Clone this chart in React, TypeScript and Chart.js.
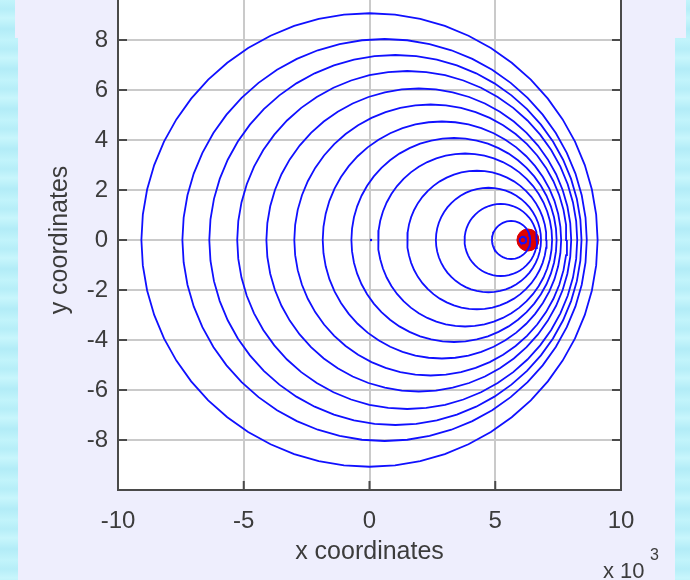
import React, { useEffect, useRef } from 'react';
import { Chart, registerables } from 'chart.js';

Chart.register(...registerables);

// ---- data (units of x: 10^3) ----
const xTicks = [-10, -5, 0, 5, 10];
const yTicks = [-8, -6, -4, -2, 0, 2, 4, 6, 8];
const xRange = [-10, 10];
const yRange = [-10, 10];

// wavefront circles: centre on the x axis and radius
const waveCenters = [0.0, 0.6, 1.03, 1.5, 1.96, 2.43, 2.88, 3.36, 3.8, 4.27, 4.73, 5.22, 5.63, 6.1];
const waveRadii = [9.07, 8.04, 7.4, 6.76, 6.06, 5.42, 4.74, 4.08, 3.46, 2.77, 2.09, 1.44, 0.76, 0.13];

// moving source
const sourceX = [6.3];
const sourceY = [0];

// stray marker at the origin
const originX = [0.06];
const originY = [0];

const SEGMENTS = 56;

function circlePoints(cx: number, r: number) {
  const pts: { x: number; y: number }[] = [];
  for (let i = 0; i <= SEGMENTS; i++) {
    const a = (2 * Math.PI * i) / SEGMENTS;
    pts.push({ x: cx + r * Math.cos(a), y: r * Math.sin(a) });
  }
  return pts;
}

const TEXT = '#3c3c3c';
const FONT = '"Liberation Sans", Arial, sans-serif';

const boxPlugin = {
  id: 'matlabBox',
  beforeDraw(chart: any) {
    const { ctx, chartArea } = chart;
    const { left, right, top, bottom } = chartArea;
    ctx.save();
    ctx.fillStyle = '#ffffff';
    ctx.fillRect(left, top, right - left, bottom - top);
    ctx.restore();
  },
  afterDatasetsDraw(chart: any) {
    const { ctx, chartArea, scales } = chart;
    const { left, right, top, bottom } = chartArea;
    const xs = scales.x;
    const ys = scales.y;
    ctx.save();
    ctx.strokeStyle = '#4a4a4a';
    ctx.lineWidth = 2;
    ctx.strokeRect(left, top, right - left, bottom - top);
    const tl = 9;
    ctx.beginPath();
    for (const v of xTicks) {
      const px = xs.getPixelForValue(v);
      ctx.moveTo(px, bottom);
      ctx.lineTo(px, bottom - tl);
      ctx.moveTo(px, top);
      ctx.lineTo(px, top + tl);
    }
    for (const v of yTicks) {
      const py = ys.getPixelForValue(v);
      ctx.moveTo(left, py);
      ctx.lineTo(left + tl, py);
      ctx.moveTo(right, py);
      ctx.lineTo(right - tl, py);
    }
    ctx.stroke();

    // exponent label
    ctx.fillStyle = TEXT;
    ctx.textBaseline = 'alphabetic';
    ctx.textAlign = 'left';
    ctx.font = `22px ${FONT}`;
    ctx.fillText('x 10', 603, 618);
    ctx.font = `16px ${FONT}`;
    ctx.fillText('3', 650, 600);
    ctx.restore();
  },
};

export default function App() {
  const ref = useRef<HTMLCanvasElement | null>(null);

  useEffect(() => {
    if (!ref.current) return;
    const datasets: any[] = [];
    for (let i = 0; i < waveCenters.length; i++) {
      datasets.push({
        data: circlePoints(waveCenters[i], waveRadii[i]),
        showLine: true,
        borderColor: '#1010ff',
        borderWidth: 1.8,
        pointRadius: 0,
        fill: false,
        tension: 0,
        order: 1,
      });
    }
    datasets.push({
      data: originX.map((x, i) => ({ x, y: originY[i] })),
      showLine: false,
      pointRadius: 1.2,
      pointBackgroundColor: '#0000ff',
      pointBorderWidth: 0,
      order: 1,
    });
    datasets.push({
      data: sourceX.map((x, i) => ({ x, y: sourceY[i] })),
      showLine: false,
      pointRadius: 11,
      pointBackgroundColor: 'rgb(222,0,0)',
      pointBorderColor: 'rgb(222,0,0)',
      pointBorderWidth: 1,
      order: 2,
    });

    const chart = new Chart(ref.current, {
      type: 'scatter',
      data: { datasets },
      plugins: [boxPlugin],
      options: {
        responsive: false,
        animation: false,
        events: [],
        layout: { padding: { left: 0, right: 69, top: 30, bottom: 10 } },
        plugins: { legend: { display: false }, tooltip: { enabled: false } },
        scales: {
          x: {
            type: 'linear',
            min: xRange[0],
            max: xRange[1],
            afterFit: (s: any) => {
              s.height = 80;
            },
            afterBuildTicks: (s: any) => {
              s.ticks = xTicks.map((v) => ({ value: v }));
            },
            border: { display: false },
            grid: { color: '#cacaca', lineWidth: 2, drawTicks: false },
            ticks: {
              padding: 17,
              color: TEXT,
              font: { family: FONT, size: 24 },
              maxRotation: 0,
              autoSkip: false,
              callback: (v: any) => String(v),
            },
            title: {
              display: true,
              text: 'x coordinates',
              color: TEXT,
              font: { family: FONT, size: 25 },
              padding: { top: 0, bottom: 2.4 },
            },
          },
          y: {
            type: 'linear',
            min: yRange[0],
            max: yRange[1],
            afterFit: (s: any) => {
              s.width = 118;
            },
            afterBuildTicks: (s: any) => {
              s.ticks = [yRange[0], ...yTicks, yRange[1]].map((v) => ({ value: v }));
            },
            border: { display: false },
            grid: { color: '#cacaca', lineWidth: 2, drawTicks: false },
            ticks: {
              padding: 10,
              color: TEXT,
              font: { family: FONT, size: 24 },
              autoSkip: false,
              callback: (v: any) => (yTicks.includes(v) ? String(v) : ''),
            },
            title: {
              display: true,
              text: 'y coordinates',
              color: TEXT,
              font: { family: FONT, size: 25 },
              padding: { top: 45.4, bottom: 0 },
            },
          },
        },
      } as any,
    });
    return () => chart.destroy();
  }, []);

  const water =
    'repeating-linear-gradient(180deg, #c2f4fb 0px, #b6eef8 9px, #c8f6fc 18px, #b2ecf7 29px, #c2f4fb 40px)';

  return (
    <div
      style={{
        position: 'fixed',
        left: 0,
        top: 0,
        width: 690,
        height: 580,
        overflow: 'hidden',
        background: water,
      }}
    >
      <div style={{ position: 'absolute', left: 15, top: 0, width: 671, height: 38, background: '#eeeefd' }} />
      <div style={{ position: 'absolute', left: 18, top: 0, width: 657, height: 580, background: '#eeeefd' }} />
      <canvas
        ref={ref}
        width={690}
        height={620}
        style={{ position: 'absolute', left: 0, top: -40, width: 690, height: 620, display: 'block' }}
      />
    </div>
  );
}
